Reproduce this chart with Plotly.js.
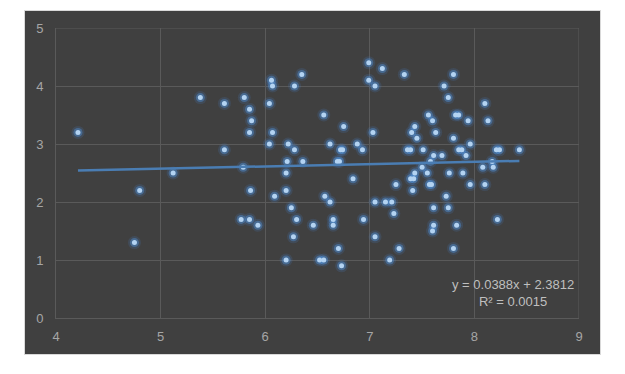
<!DOCTYPE html>
<html>
<head>
<meta charset="utf-8">
<script src="https://cdn.plot.ly/plotly-3.0.1.min.js"></script>
<style>
  html, body { margin: 0; padding: 0; background: #ffffff; width: 625px; height: 374px; overflow: hidden; }
  #frame { position: absolute; left: 24px; top: 10px; width: 575px; height: 343px; border: 1px solid #d9d9d9; }
  #chart { width: 575px; height: 343px; }
</style>
</head>
<body>
<div id="frame"><div id="chart"></div></div>
<script>
// Data
const xValues = [
  6.99,
  7.12,
  6.35, 7.33, 7.80,
  6.06, 6.99,
  6.07, 6.28, 7.05, 7.71,
  5.38, 5.80, 7.75,
  5.61, 6.04, 8.10,
  5.85,
  6.56, 7.56, 7.82, 7.85,
  5.87, 7.60, 7.94, 8.13,
  6.75, 7.43,
  4.21, 5.85, 6.07, 7.03, 7.40, 7.63,
  7.45, 7.80,
  6.04, 6.22, 6.62, 6.88, 7.96,
  5.61, 6.28, 6.72, 6.74, 6.93, 7.36, 7.39, 7.51, 7.85, 7.88, 8.21, 8.24, 8.43,
  7.61, 7.69, 7.92,
  6.21, 6.36, 6.69, 6.71, 7.58, 8.17,
  5.79, 7.50, 8.08, 8.18,
  5.12, 6.20, 7.43, 7.55, 7.76, 7.89,
  6.84, 7.39, 7.42,
  7.25, 7.57, 7.59, 7.96, 8.10,
  4.80, 5.86, 6.20, 7.41,
  6.09, 6.57, 7.73,
  6.62, 7.05, 7.15, 7.21,
  6.25, 7.61, 7.75,
  7.23,
  5.77, 5.85, 6.30, 6.65, 6.94, 8.22,
  5.93, 6.46, 6.65, 7.61, 7.83,
  7.60,
  6.27, 7.05,
  4.75,
  6.70, 7.28, 7.80,
  6.20, 6.52, 6.56, 7.19,
  6.73
];
const yValues = [
  4.4,
  4.3,
  4.2, 4.2, 4.2,
  4.1, 4.1,
  4.0, 4.0, 4.0, 4.0,
  3.8, 3.8, 3.8,
  3.7, 3.7, 3.7,
  3.6,
  3.5, 3.5, 3.5, 3.5,
  3.4, 3.4, 3.4, 3.4,
  3.3, 3.3,
  3.2, 3.2, 3.2, 3.2, 3.2, 3.2,
  3.1, 3.1,
  3.0, 3.0, 3.0, 3.0, 3.0,
  2.9, 2.9, 2.9, 2.9, 2.9, 2.9, 2.9, 2.9, 2.9, 2.9, 2.9, 2.9, 2.9,
  2.8, 2.8, 2.8,
  2.7, 2.7, 2.7, 2.7, 2.7, 2.7,
  2.6, 2.6, 2.6, 2.6,
  2.5, 2.5, 2.5, 2.5, 2.5, 2.5,
  2.4, 2.4, 2.4,
  2.3, 2.3, 2.3, 2.3, 2.3,
  2.2, 2.2, 2.2, 2.2,
  2.1, 2.1, 2.1,
  2.0, 2.0, 2.0, 2.0,
  1.9, 1.9, 1.9,
  1.8,
  1.7, 1.7, 1.7, 1.7, 1.7, 1.7,
  1.6, 1.6, 1.6, 1.6, 1.6,
  1.5,
  1.4, 1.4,
  1.3,
  1.2, 1.2, 1.2,
  1.0, 1.0, 1.0, 1.0,
  0.9
];
// Trendline as labelled on the chart
const trendSlope = 0.0388;
const trendIntercept = 2.3812;
const trendLabel = ["y = 0.0388x + 2.3812", "R\u00b2 = 0.0015"];
const xTicks = [4, 5, 6, 7, 8, 9];
const yTicks = [0, 1, 2, 3, 4, 5];

const xMin = Math.min(...xValues), xMax = Math.max(...xValues);
const trendX = [xMin, xMax];
const trendY = trendX.map(v => trendSlope * v + trendIntercept);

const glowOuter = {
  x: xValues, y: yValues, type: 'scatter', mode: 'markers', hoverinfo: 'skip',
  marker: { size: 13, color: 'rgba(70,130,200,0.18)', line: { width: 0 } }
};
const glowInner = {
  x: xValues, y: yValues, type: 'scatter', mode: 'markers', hoverinfo: 'skip',
  marker: { size: 9, color: 'rgba(80,145,215,0.45)', line: { width: 0 } }
};
const core = {
  x: xValues, y: yValues, type: 'scatter', mode: 'markers',
  marker: { size: 5, color: '#b3d3f2', line: { width: 0 } }
};
const trend = {
  x: trendX, y: trendY, type: 'scatter', mode: 'lines', hoverinfo: 'skip',
  line: { color: '#4a7db3', width: 2.5 }
};

const gridColor = '#5a5a5a';
const tickFont = { family: 'Liberation Sans, Arial, sans-serif', size: 13, color: '#a6a6a6' };

const layout = {
  width: 575, height: 343,
  margin: { l: 31, r: 21, t: 17, b: 36 },
  paper_bgcolor: '#404040',
  plot_bgcolor: '#404040',
  showlegend: false,
  xaxis: {
    range: [4, 9], tickvals: xTicks, ticktext: xTicks.map(String),
    showgrid: true, gridcolor: gridColor, gridwidth: 1,
    zeroline: false, showline: true, linecolor: gridColor, linewidth: 1, mirror: false,
    ticks: '', tickfont: tickFont, ticklabelstandoff: 6, fixedrange: true
  },
  yaxis: {
    range: [0, 5], tickvals: yTicks, ticktext: yTicks.map(String),
    showgrid: true, gridcolor: gridColor, gridwidth: 1,
    zeroline: false, showline: true, linecolor: gridColor, linewidth: 1,
    ticks: '', tickfont: tickFont, ticklabelstandoff: 9, fixedrange: true
  },
  shapes: [
    { type: 'line', xref: 'x', yref: 'paper', x0: 9, x1: 9, y0: 0, y1: 1, line: { color: gridColor, width: 1 } },
    { type: 'line', xref: 'paper', yref: 'y', x0: 0, x1: 1, y0: 5, y1: 5, line: { color: gridColor, width: 1 } }
  ],
  annotations: [{
    x: 8.37, y: 0.43, xref: 'x', yref: 'y',
    text: trendLabel.join('<br>'), showarrow: false,
    xanchor: 'center', yanchor: 'middle', align: 'center',
    font: { family: 'Liberation Sans, Arial, sans-serif', size: 13, color: '#bfbfbf' }
  }]
};

Plotly.newPlot('chart', [glowOuter, glowInner, core, trend], layout, { displayModeBar: false, staticPlot: true });
</script>
</body>
</html>
